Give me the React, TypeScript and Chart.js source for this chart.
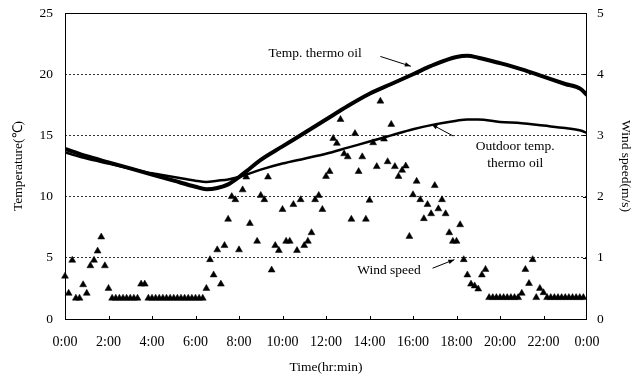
import React, { useEffect, useRef } from "react";
import { Chart, registerables } from "chart.js";

Chart.register(...registerables);

// ---- data ----
const tempHours = [0, 1, 2, 3, 4, 5, 6, 6.5, 7, 7.5, 8, 8.5, 9, 10, 11, 12, 13, 14, 15, 16, 17, 18, 18.5, 19, 20, 21, 22, 23, 23.7, 24];
const thermoOil = [13.9, 13.3, 12.8, 12.3, 11.8, 11.3, 10.8, 10.6, 10.7, 11.0, 11.6, 12.3, 13.0, 14.1, 15.2, 16.3, 17.4, 18.4, 19.2, 20.0, 20.8, 21.4, 21.5, 21.35, 20.9, 20.4, 19.8, 19.2, 18.8, 18.3];
const outdoorThermoOil = [13.6, 13.1, 12.7, 12.3, 11.9, 11.6, 11.3, 11.2, 11.3, 11.4, 11.6, 11.9, 12.2, 12.7, 13.1, 13.5, 14.0, 14.5, 15.0, 15.5, 15.9, 16.2, 16.3, 16.3, 16.1, 16.0, 15.8, 15.6, 15.4, 15.2];

const windStepMinutes = 10;
const windSpeed: (number | null)[] = [
  0.70, 0.42, 0.96, 0.34, 0.34, 0.56, 0.42, 0.87, 0.96, 1.11, 1.34, 0.87, 0.50,
  0.34, 0.34, 0.34, 0.34, 0.34, 0.34, 0.34, 0.34,
  0.57, 0.57,
  0.34, 0.34, 0.34, 0.34, 0.34, 0.34, 0.34, 0.34, 0.34, 0.34, 0.34, 0.34, 0.34, 0.34, 0.34, 0.34,
  0.50, 0.97, 0.72, 1.13, 0.57, 1.20, 1.63, 2.00, 1.95, 1.13, 2.11, 2.32, 1.56, null,
  1.27, 2.02, 1.95, 2.32, 0.80, 1.20, 1.12, 1.79, 1.27, 1.27, 1.87, 1.12, 1.95, 1.20,
  1.27, 1.41, 1.95, 2.02, 1.79, 2.33, 2.41, 2.95, 2.87, 3.26, 2.70, 2.65, 1.63, 3.03,
  2.41, 2.65, 1.63, 1.94, 2.88, 2.49, 3.56, 2.94, 2.57, 3.18, 2.49, 2.33, 2.43, 2.50,
  1.35, 2.03, 2.25, 1.95, 1.64, 1.87, 1.72, 2.18, 1.80, 1.95, 1.72, 1.41, 1.27, 1.27,
  1.54, 0.97, 0.72, 0.57, 0.54, 0.49, 0.72, 0.81,
  0.35, 0.35, 0.35, 0.35, 0.35, 0.35, 0.35, 0.35, 0.35,
  0.42, 0.81, 0.58, 0.97, 0.35, 0.50, 0.43,
  0.35, 0.35, 0.35, 0.35, 0.35, 0.35, 0.35, 0.35, 0.35, 0.35, 0.35,
  null,
];

const hourTicks = [0, 2, 4, 6, 8, 10, 12, 14, 16, 18, 20, 22, 24];
const tempTicks = [0, 5, 10, 15, 20, 25];
const windTicks = [0, 1, 2, 3, 4, 5];

// annotation texts, placed in data units (hours, °C)
const notes = [
  { lines: ["Temp. thermo oil"], x: 11.5, y: 21.7, arrow: [14.5, 21.45, 15.9, 20.65] },
  { lines: ["Outdoor temp.", "thermo oil"], x: 20.7, y: 14.1, arrow: [17.85, 14.95, 16.85, 15.9] },
  { lines: ["Wind speed"], x: 14.9, y: 4.0, arrow: [16.9, 4.15, 17.9, 4.85] },
];

const FONT = "'Liberation Serif', 'Times New Roman', serif";

const decorPlugin = {
  id: "decor",
  afterDatasetsDraw(chart: any) {
    const { ctx, chartArea: a, scales } = chart;
    const X = (v: number) => scales.x.getPixelForValue(v);
    const Y = (v: number) => scales.y.getPixelForValue(v);
    const Y1 = (v: number) => scales.y1.getPixelForValue(v);
    ctx.save();
    ctx.strokeStyle = "#000";
    ctx.lineWidth = 1;
    ctx.setLineDash([]);
    ctx.strokeRect(Math.round(a.left) + 0.5, Math.round(a.top) + 0.5, Math.round(a.right - a.left) - 1, Math.round(a.bottom - a.top));
    // inner tick marks
    ctx.beginPath();
    hourTicks.forEach((h) => {
      if (h === 0 || h === 24) return;
      const px = Math.round(X(h)) + 0.5;
      ctx.moveTo(px, a.bottom);
      ctx.lineTo(px, a.bottom - 3);
    });
    windTicks.forEach((w) => {
      if (w === 0 || w === 5) return;
      const py = Math.round(Y1(w)) + 0.5;
      ctx.moveTo(a.right, py);
      ctx.lineTo(a.right - 4, py);
    });
    ctx.stroke();
    // annotations
    ctx.fillStyle = "#000";
    ctx.font = `13.5px ${FONT}`;
    ctx.textAlign = "center";
    ctx.textBaseline = "middle";
    notes.forEach((n) => {
      const cx = X(n.x);
      const cy = Y(n.y);
      n.lines.forEach((t, i) => ctx.fillText(t, cx, cy + i * 17));
      const [x0, y0, x1, y1] = n.arrow;
      const ax0 = X(x0), ay0 = Y(y0), ax1 = X(x1), ay1 = Y(y1);
      ctx.beginPath();
      ctx.moveTo(ax0, ay0);
      ctx.lineTo(ax1, ay1);
      ctx.lineWidth = 1;
      ctx.stroke();
      const ang = Math.atan2(ay1 - ay0, ax1 - ax0);
      const L = 6, W = 2.2;
      ctx.beginPath();
      ctx.moveTo(ax1, ay1);
      ctx.lineTo(ax1 - L * Math.cos(ang) + W * Math.sin(ang), ay1 - L * Math.sin(ang) - W * Math.cos(ang));
      ctx.lineTo(ax1 - L * Math.cos(ang) - W * Math.sin(ang), ay1 - L * Math.sin(ang) + W * Math.cos(ang));
      ctx.closePath();
      ctx.fill();
    });
    ctx.restore();
  },
};

const fixV = (w: number) => (s: any) => {
  s.width = w;
  s.paddingTop = 0;
  s.paddingBottom = 0;
};

export default function App() {
  const ref = useRef<HTMLCanvasElement>(null);
  useEffect(() => {
    document.body.style.margin = "0";
    const canvas = ref.current;
    if (!canvas) return;
    const chart = new Chart(canvas, {
      type: "line",
      data: {
        datasets: [
          {
            label: "Wind speed",
            data: windSpeed.map((v, i) => ({ x: (i * windStepMinutes) / 60, y: v })) as any,
            showLine: false,
            pointStyle: "triangle",
            pointRadius: 4,
            pointBackgroundColor: "#000",
            pointBorderColor: "#000",
            pointBorderWidth: 0.5,
            yAxisID: "y1",
            clip: false,
            order: 2,
          },
          {
            label: "Temp. thermo oil",
            data: tempHours.map((h, i) => ({ x: h, y: thermoOil[i] })),
            borderColor: "#000",
            borderWidth: 4,
            pointRadius: 0,
            cubicInterpolationMode: "monotone",
            yAxisID: "y",
            order: 1,
          },
          {
            label: "Outdoor temp. thermo oil",
            data: tempHours.map((h, i) => ({ x: h, y: outdoorThermoOil[i] })),
            borderColor: "#000",
            borderWidth: 2.5,
            pointRadius: 0,
            cubicInterpolationMode: "monotone",
            yAxisID: "y",
            order: 1,
          },
        ],
      },
      options: {
        animation: false,
        responsive: false,
        maintainAspectRatio: false,
        layout: { padding: { top: 13, left: 0, right: 0, bottom: 0 } },
        plugins: { legend: { display: false }, tooltip: { enabled: false } },
        scales: {
          x: {
            type: "linear",
            min: 0,
            max: 24,
            afterBuildTicks: (s: any) => { s.ticks = hourTicks.map((v) => ({ value: v })); },
            afterFit: (s: any) => { s.height = 57; s.paddingLeft = 0; s.paddingRight = 0; },
            ticks: {
              callback: (v: any) => `${Number(v) % 24}:00`,
              color: "#000",
              font: { family: FONT, size: 14 },
              padding: 15,
              maxRotation: 0,
              autoSkip: false,
            },
            grid: { display: false, drawTicks: false },
            border: { display: false },
            title: { display: true, text: "Time(hr:min)", color: "#000", font: { family: FONT, size: 13.5 }, padding: { top: 0, bottom: 0 } },
          },
          y: {
            position: "left",
            min: 0,
            max: 25,
            afterBuildTicks: (s: any) => { s.ticks = tempTicks.map((v) => ({ value: v })); },
            afterFit: fixV(65),
            ticks: { color: "#000", font: { family: FONT, size: 13.5 }, padding: 12 },
            grid: {
              drawTicks: false,
              lineWidth: 1,
              color: (c: any) => (c.tick && (c.tick.value === 0 || c.tick.value === 25) ? "rgba(0,0,0,0)" : "#333"),
            },
            border: { display: false, dash: [2, 2] },
            title: { display: true, text: "Temperature(℃)", color: "#000", font: { family: FONT, size: 13.5 }, padding: { top: 10, bottom: 0 } },
          },
          y1: {
            position: "right",
            min: 0,
            max: 5,
            afterBuildTicks: (s: any) => { s.ticks = windTicks.map((v) => ({ value: v })); },
            afterFit: fixV(53),
            ticks: { color: "#000", font: { family: FONT, size: 13.5 }, padding: 10 },
            grid: { drawOnChartArea: false, drawTicks: false },
            border: { display: false },
            title: { display: true, text: "Wind speed(m/s)", color: "#000", font: { family: FONT, size: 13.5 }, padding: { top: 6, bottom: 0 } },
          },
        },
      },
      plugins: [decorPlugin],
    } as any);
    return () => chart.destroy();
  }, []);
  return (
    <div style={{ width: 640, height: 376, background: "#fff" }}>
      <canvas ref={ref} width={640} height={376} style={{ display: "block", width: 640, height: 376 }} />
    </div>
  );
}
